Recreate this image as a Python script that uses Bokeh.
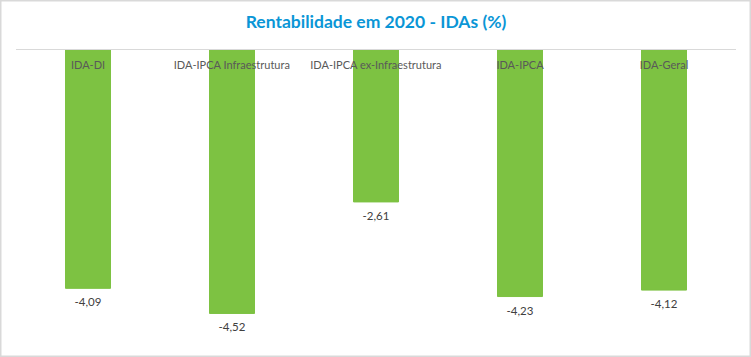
from bokeh.plotting import figure
from bokeh.models import Range1d, Label, ColumnDataSource
from bokeh.core.properties import value
from bokeh.embed import file_html
from bokeh.resources import INLINE

categories = ["IDA-DI", "IDA-IPCA Infraestrutura", "IDA-IPCA ex-Infraestrutura", "IDA-IPCA", "IDA-Geral"]
values = [-4.09, -4.52, -2.61, -4.23, -4.12]
value_labels = ["-4,09", "-4,52", "-2,61", "-4,23", "-4,12"]
title_text = "Rentabilidade em 2020 - IDAs (%)"

W, H = 751, 357
n = len(categories)
xs = list(range(n))
cat_px = 144.0
unit_px = 58.4
zero_px_from_top = 49

x_start = -0.5 - 15.5 / cat_px
x_end = x_start + W / cat_px
y_end = zero_px_from_top / unit_px
y_start = y_end - H / unit_px

src = ColumnDataSource(dict(x=xs, v=values, lab=value_labels, cat=categories, zero=[0] * n))

p = figure(width=W, height=H, output_backend="svg", toolbar_location=None,
           x_range=Range1d(x_start, x_end), y_range=Range1d(y_start, y_end),
           min_border=0, min_border_left=0, min_border_right=0, min_border_top=0, min_border_bottom=0)
p.axis.visible = False
p.grid.visible = False
p.outline_line_color = "#D9D9D9"
p.outline_line_width = 2
p.background_fill_color = "white"
p.border_fill_color = "white"

p.vbar(x="x", top="zero", bottom="v", width=45 / cat_px, color="#7DC242", source=src)
p.segment(x0=[-0.5], y0=[0], x1=[n - 0.5], y1=[0], line_color="#D9D9D9", line_width=1)

p.text(x="x", y="v", text="lab", source=src, text_align="center", text_baseline="middle",
       y_offset=14, text_font=value("Lato"), text_font_size="11.5px", text_color="#404040")
p.text(x="x", y="zero", text="cat", source=src, text_align="center", text_baseline="middle",
       y_offset=15, text_font=value("Lato"), text_font_size="11px", text_color="#595959")

p.add_layout(Label(x=W / 2, y=H - 21, x_units="screen", y_units="screen", text=title_text,
                   text_align="center", text_baseline="middle", text_font="Lato",
                   text_font_size="17.5px", text_font_style="bold", text_color="#0A96D6"))

open("out.html", "w").write(file_html(p, INLINE))
